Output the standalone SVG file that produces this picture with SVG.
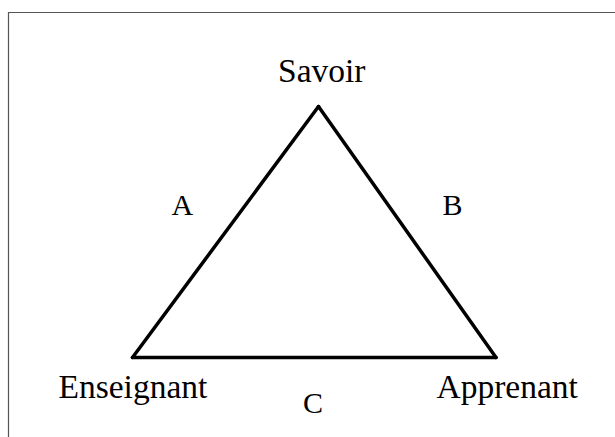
<svg xmlns="http://www.w3.org/2000/svg" width="615" height="437" viewBox="0 0 615 437">
<style>
.node{font-family:"Liberation Serif","Times New Roman",serif;font-size:33.5px;fill:#000}
.lbl{font-family:"Liberation Serif","Times New Roman",serif;font-size:30px;fill:#000}
.edge{stroke:#000;stroke-width:3.5;fill:none;stroke-linecap:round}
</style>
<rect width="615" height="437" fill="#fff"/>
<path d="M8.5,437 V12.5 H615" fill="none" stroke="#555" stroke-width="1.2"/>
<g id="connectors">
<line class="edge" x1="318.5" y1="106.5" x2="132.5" y2="357.5"/>
<line class="edge" x1="318.5" y1="106.5" x2="496" y2="357.5"/>
<line class="edge" x1="132.5" y1="357.5" x2="496" y2="357.5"/>
<text class="lbl" x="171.5" y="215">A</text>
<text class="lbl" x="442.5" y="215">B</text>
<text class="lbl" x="303" y="413">C</text>
</g>
<g id="savoir"><text class="node" x="278" y="82">Savoir</text></g>
<g id="enseignant"><text class="node" x="58.5" y="398">Enseignant</text></g>
<g id="apprenant"><text class="node" x="436.5" y="398">Apprenant</text></g>
</svg>
